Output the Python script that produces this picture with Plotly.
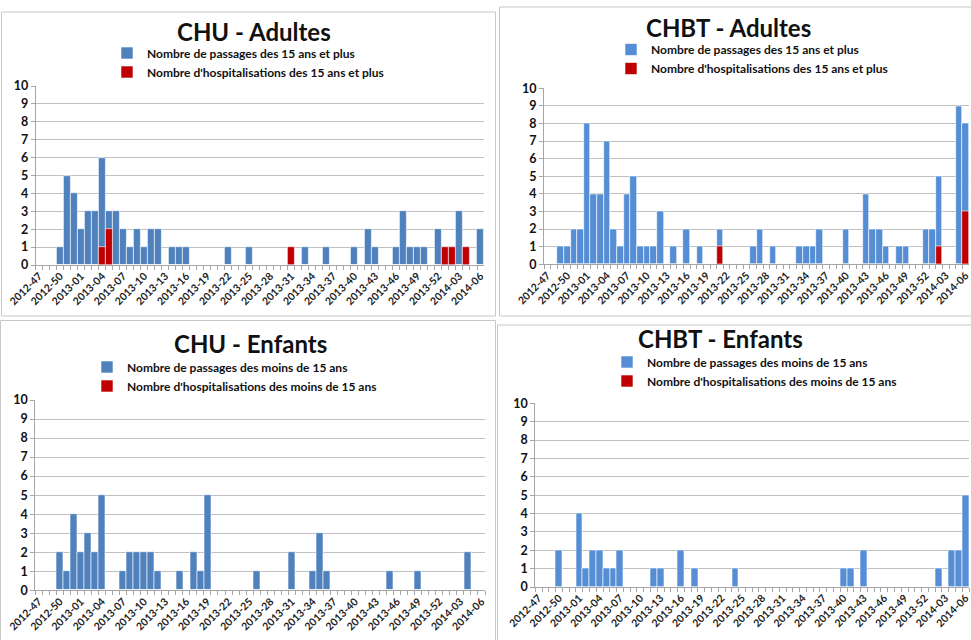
import plotly.graph_objects as go

weeks = [
    "2012-47", "2012-48", "2012-49", "2012-50", "2012-51", "2012-52",
    "2013-01", "2013-02", "2013-03", "2013-04", "2013-05", "2013-06", "2013-07", "2013-08",
    "2013-09", "2013-10", "2013-11", "2013-12", "2013-13", "2013-14", "2013-15", "2013-16",
    "2013-17", "2013-18", "2013-19", "2013-20", "2013-21", "2013-22", "2013-23", "2013-24",
    "2013-25", "2013-26", "2013-27", "2013-28", "2013-29", "2013-30", "2013-31", "2013-32",
    "2013-33", "2013-34", "2013-35", "2013-36", "2013-37", "2013-38", "2013-39", "2013-40",
    "2013-41", "2013-42", "2013-43", "2013-44", "2013-45", "2013-46", "2013-47", "2013-48",
    "2013-49", "2013-50", "2013-51", "2013-52",
    "2014-01", "2014-02", "2014-03", "2014-04", "2014-05", "2014-06",
]

chu_adultes_passages = [
    0, 0, 0, 1, 5, 4, 2, 3,
    3, 6, 3, 3, 2, 1, 2, 1,
    2, 2, 0, 1, 1, 1, 0, 0,
    0, 0, 0, 1, 0, 0, 1, 0,
    0, 0, 0, 0, 1, 0, 1, 0,
    0, 1, 0, 0, 0, 1, 0, 2,
    1, 0, 0, 1, 3, 1, 1, 1,
    0, 2, 1, 1, 3, 1, 0, 2,
]
chu_adultes_hosp = [
    0, 0, 0, 0, 0, 0, 0, 0,
    0, 1, 2, 0, 0, 0, 0, 0,
    0, 0, 0, 0, 0, 0, 0, 0,
    0, 0, 0, 0, 0, 0, 0, 0,
    0, 0, 0, 0, 1, 0, 0, 0,
    0, 0, 0, 0, 0, 0, 0, 0,
    0, 0, 0, 0, 0, 0, 0, 0,
    0, 0, 1, 1, 0, 1, 0, 0,
]
chbt_adultes_passages = [
    0, 0, 1, 1, 2, 2, 8, 4,
    4, 7, 2, 1, 4, 5, 1, 1,
    1, 3, 0, 1, 0, 2, 0, 1,
    0, 0, 2, 0, 0, 0, 0, 1,
    2, 0, 1, 0, 0, 0, 1, 1,
    1, 2, 0, 0, 0, 2, 0, 0,
    4, 2, 2, 1, 0, 1, 1, 0,
    0, 2, 2, 5, 0, 0, 9, 8,
]
chbt_adultes_hosp = [
    0, 0, 0, 0, 0, 0, 0, 0,
    0, 0, 0, 0, 0, 0, 0, 0,
    0, 0, 0, 0, 0, 0, 0, 0,
    0, 0, 1, 0, 0, 0, 0, 0,
    0, 0, 0, 0, 0, 0, 0, 0,
    0, 0, 0, 0, 0, 0, 0, 0,
    0, 0, 0, 0, 0, 0, 0, 0,
    0, 0, 0, 1, 0, 0, 0, 3,
]
chu_enfants_passages = [
    0, 0, 0, 2, 1, 4, 2, 3,
    2, 5, 0, 0, 1, 2, 2, 2,
    2, 1, 0, 0, 1, 0, 2, 1,
    5, 0, 0, 0, 0, 0, 0, 1,
    0, 0, 0, 0, 2, 0, 0, 1,
    3, 1, 0, 0, 0, 0, 0, 0,
    0, 0, 1, 0, 0, 0, 1, 0,
    0, 0, 0, 0, 0, 2, 0, 0,
]
chu_enfants_hosp = [0] * 64
chbt_enfants_passages = [
    0, 0, 0, 2, 0, 0, 4, 1,
    2, 2, 1, 1, 2, 0, 0, 0,
    0, 1, 1, 0, 0, 2, 0, 1,
    0, 0, 0, 0, 0, 1, 0, 0,
    0, 0, 0, 0, 0, 0, 0, 0,
    0, 0, 0, 0, 0, 1, 1, 0,
    2, 0, 0, 0, 0, 0, 0, 0,
    0, 0, 0, 1, 0, 2, 2, 5,
]
chbt_enfants_hosp = [0] * 64

tick_labels = [w if i % 3 == 0 else "" for i, w in enumerate(weeks)]

W, H = 971, 640
FONT = "Lato"
RED = "#C00000"
GRID = "#C0C0C0"
AXIS = "#A6A6A6"


def px(x):
    return x / W


def py(y):
    return 1 - y / H


panels = [
    dict(title="CHU - Adultes", passages=chu_adultes_passages, hosp=chu_adultes_hosp,
         lp="Nombre de passages des 15 ans et plus",
         lh="Nombre d'hospitalisations des 15 ans et plus",
         blue="#4F81BD", xd=(35.7, 484.0), yd=(86, 265),
         box=(1.5, 12, 495.5, 316), tpos=(254, 31), lpos=(107, 38.5)),
    dict(title="CHBT - Adultes", passages=chbt_adultes_passages, hosp=chbt_adultes_hosp,
         lp="Nombre de passages des 15 ans et plus",
         lh="Nombre d'hospitalisations des 15 ans et plus",
         blue="#558ED5", xd=(544.0, 969.0), yd=(88.3, 264.3),
         box=(499.5, 7, 980, 316), tpos=(728, 27), lpos=(611, 35)),
    dict(title="CHU - Enfants", passages=chu_enfants_passages, hosp=chu_enfants_hosp,
         lp="Nombre de passages des moins de 15 ans",
         lh="Nombre d'hospitalisations des moins de 15 ans",
         blue="#4F81BD", xd=(35.3, 485.0), yd=(400, 590.3),
         box=(0.5, 320.5, 495.5, 650), tpos=(250, 343), lpos=(87, 352.5)),
    dict(title="CHBT - Enfants", passages=chbt_enfants_passages, hosp=chbt_enfants_hosp,
         lp="Nombre de passages des moins de 15 ans",
         lh="Nombre d'hospitalisations des moins de 15 ans",
         blue="#558ED5", xd=(535.3, 969.0), yd=(403.3, 587),
         box=(497.5, 325, 980, 650), tpos=(720, 338), lpos=(607, 347.5)),
]

fig = go.Figure()
shapes = []
annotations = []
layout = {}

for k, p in enumerate(panels, start=1):
    xa = "x" if k == 1 else f"x{k}"
    ya = "y" if k == 1 else f"y{k}"
    lg = "legend" if k == 1 else f"legend{k}"
    fig.add_trace(go.Bar(
        x=weeks, y=p["passages"], name=p["lp"], xaxis=xa, yaxis=ya, legend=lg,
        marker=dict(color=p["blue"], line=dict(color="white", width=0.6)),
    ))
    fig.add_trace(go.Bar(
        x=weeks, y=p["hosp"], name=p["lh"], xaxis=xa, yaxis=ya, legend=lg,
        marker=dict(color=RED, line=dict(color="white", width=0.6)),
    ))
    xkey = "xaxis" if k == 1 else f"xaxis{k}"
    ykey = "yaxis" if k == 1 else f"yaxis{k}"
    layout[xkey] = dict(
        domain=[px(p["xd"][0]), px(p["xd"][1])], anchor=ya,
        type="category", categoryorder="array", categoryarray=weeks,
        tickmode="array", tickvals=weeks, ticktext=tick_labels,
        tickson="boundaries", ticks="outside", ticklen=4, tickcolor=AXIS,
        showline=True, linecolor=AXIS, linewidth=1, showgrid=False,
        tickangle=-45, tickfont=dict(family=FONT, size=10.5, color="#222222", weight="bold"),
        fixedrange=True, automargin=False,
    )
    layout[ykey] = dict(
        domain=[py(p["yd"][1]), py(p["yd"][0])], anchor=xa,
        range=[0, 10], dtick=1, tick0=0,
        showgrid=True, gridcolor=GRID, gridwidth=1,
        showline=True, linecolor=AXIS, linewidth=1,
        ticks="outside", ticklen=4, tickcolor=AXIS,
        zeroline=False,
        tickfont=dict(family=FONT, size=12.5, color="#111111", weight="bold"),
        fixedrange=True, automargin=False,
    )
    layout[lg] = dict(
        x=px(p["lpos"][0]), y=py(p["lpos"][1]), xanchor="left", yanchor="top",
        orientation="v", traceorder="normal", bgcolor="rgba(0,0,0,0)",
        font=dict(family=FONT, size=12, color="#111111", weight="bold"),
        itemclick=False, itemdoubleclick=False, tracegroupgap=0,
    )
    x0, y0, x1, y1 = p["box"]
    shapes.append(dict(type="rect", xref="paper", yref="paper",
                       x0=px(x0), x1=px(x1), y0=py(y1), y1=py(y0),
                       line=dict(color="#C8C8C8", width=1), fillcolor="rgba(0,0,0,0)",
                       layer="below"))
    annotations.append(dict(text=f"<b>{p['title']}</b>", xref="paper", yref="paper",
                            x=px(p["tpos"][0]), y=py(p["tpos"][1]),
                            xanchor="center", yanchor="middle", showarrow=False,
                            font=dict(family=FONT, size=24, color="#111111")))

fig.update_layout(
    width=W, height=H,
    margin=dict(l=0, r=0, t=0, b=0, autoexpand=False),
    paper_bgcolor="white", plot_bgcolor="white",
    barmode="overlay", bargap=0,
    showlegend=True,
    shapes=shapes, annotations=annotations,
    **layout,
)

fig.write_html(
    "out.html",
    config={"displayModeBar": False},
    post_script="document.body.style.margin='0';document.body.style.overflow='hidden';",
)
